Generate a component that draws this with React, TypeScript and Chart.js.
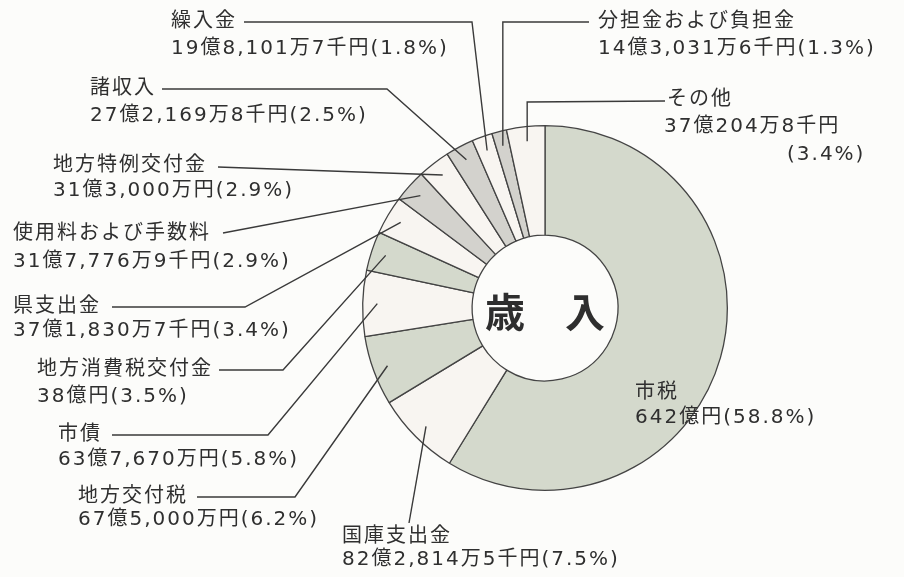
import React, { useEffect, useRef } from "react";
import { Chart, registerables } from "chart.js";

Chart.register(...registerables);

// ---- data ----
const categories = [
  "市税",
  "国庫支出金",
  "地方交付税",
  "市債",
  "地方消費税交付金",
  "県支出金",
  "使用料および手数料",
  "地方特例交付金",
  "諸収入",
  "繰入金",
  "分担金および負担金",
  "その他",
];
// amounts in 万円
const amounts = [
  6420000, 822814.5, 675000, 637670, 380000, 371830.7, 317776.9, 313000,
  272169.8, 198101.7, 143031.6, 370204.8,
];
const amountTexts = [
  "642億円",
  "82億2,814万5千円",
  "67億5,000万円",
  "63億7,670万円",
  "38億円",
  "37億1,830万7千円",
  "31億7,776万9千円",
  "31億3,000万円",
  "27億2,169万8千円",
  "19億8,101万7千円",
  "14億3,031万6千円",
  "37億204万8千円",
];
const percents = [58.8, 7.5, 6.2, 5.8, 3.5, 3.4, 2.9, 2.9, 2.5, 1.8, 1.3, 3.4];
const centerTitle = "歳　入";

// ---- styles ----
const GREEN = "#d4d9cc";
const WHITE = "#f8f5f1";
const GRAY = "#d3d2cd";
const sliceColors = [
  GREEN, WHITE, GREEN, WHITE, GREEN, WHITE, GRAY, WHITE, GRAY, WHITE, GRAY, WHITE,
];

// label layout: name position (left x, center y), value line y, leader line elbow & end
type Lay = {
  x: number;
  y: number;
  vx?: number;
  vy: number;
  split?: { x: number; y: number };
  elbow?: [number | null, number] | null;
  end?: [number, number] | null;
};
const labelLayout: Lay[] = [
  { x: 635, y: 393, vy: 418, end: null },
  { x: 342, y: 537, vy: 560, elbow: null, end: [409, 523] },
  { x: 78, y: 497, vy: 520, elbow: [295, 497], end: [197, 497] },
  { x: 58, y: 435, vy: 460, elbow: [268, 435], end: [112, 435] },
  { x: 37, y: 370, vy: 397, elbow: [283, 370], end: [219, 370] },
  { x: 13, y: 307, vy: 331, elbow: [245, 307], end: [112, 307] },
  { x: 13, y: 234, vy: 262, elbow: null, end: [223, 233] },
  { x: 53, y: 166, vy: 191, elbow: null, end: [218, 167] },
  { x: 90, y: 89, vy: 116, elbow: [387, 89], end: [162, 89] },
  { x: 171, y: 22, vy: 49, elbow: [472, 22], end: [244, 22] },
  { x: 598, y: 22, vy: 49, elbow: [null, 22], end: [589, 22] },
  { x: 667, y: 100, vx: 664, vy: 127, split: { x: 787, y: 155 }, elbow: [null, 102], end: [665, 101] },
];

const TEXT_COLOR = "#2f2f2f";
const LINE_COLOR = "#3a3a3a";
const FONT = '20px "DejaVu Sans", "Noto Sans CJK JP", sans-serif';

const decorPlugin = {
  id: "decor",
  beforeDraw(chart: any) {
    const ctx = chart.ctx;
    ctx.save();
    ctx.fillStyle = "#fcfcfa";
    ctx.fillRect(0, 0, chart.width, chart.height);
    ctx.restore();
  },
  afterDatasetsDraw(chart: any) {
    const ctx: CanvasRenderingContext2D = chart.ctx;
    const meta = chart.getDatasetMeta(0);
    ctx.save();
    // leader lines
    ctx.strokeStyle = LINE_COLOR;
    ctx.lineWidth = 1.4;
    meta.data.forEach((el: any, i: number) => {
      const lay = labelLayout[i];
      if (!lay.end) return;
      const p = el.getProps(["x", "y", "startAngle", "endAngle", "outerRadius"], true);
      const mid = (p.startAngle + p.endAngle) / 2;
      const r = p.outerRadius * 0.92;
      const ax = p.x + Math.cos(mid) * r;
      const ay = p.y + Math.sin(mid) * r;
      ctx.beginPath();
      ctx.moveTo(ax, ay);
      if (lay.elbow) {
        const ex = lay.elbow[0] === null ? ax : lay.elbow[0];
        ctx.lineTo(ex, lay.elbow[1]);
      }
      ctx.lineTo(lay.end[0], lay.end[1]);
      ctx.stroke();
    });
    // labels
    ctx.fillStyle = TEXT_COLOR;
    ctx.font = FONT;
    (ctx as any).letterSpacing = "2px";
    ctx.textBaseline = "middle";
    ctx.textAlign = "left";
    categories.forEach((name, i) => {
      const lay = labelLayout[i];
      ctx.fillText(name, lay.x, lay.y);
      const vx = lay.vx ?? lay.x;
      if (lay.split) {
        ctx.fillText(amountTexts[i], vx, lay.vy);
        ctx.fillText(`(${percents[i].toFixed(1)}%)`, lay.split.x, lay.split.y);
      } else {
        ctx.fillText(`${amountTexts[i]}(${percents[i].toFixed(1)}%)`, vx, lay.vy);
      }
    });
    // center title
    const c = meta.data[0].getProps(["x", "y"], true);
    (ctx as any).letterSpacing = "0px";
    ctx.font = 'bold 40px "Noto Sans CJK JP", sans-serif';
    ctx.textAlign = "center";
    ctx.fillStyle = "#2e2e2e";
    ctx.fillText(centerTitle, c.x, c.y + 4);
    ctx.restore();
  },
};

export default function App() {
  const ref = useRef<HTMLCanvasElement | null>(null);
  useEffect(() => {
    if (!ref.current) return;
    const chart = new Chart(ref.current, {
      type: "doughnut",
      data: {
        labels: categories,
        datasets: [
          {
            data: amounts,
            backgroundColor: sliceColors,
            borderColor: "#444444",
            borderWidth: 1.3,
          },
        ],
      },
      options: {
        animation: false,
        responsive: true,
        maintainAspectRatio: false,
        cutout: "40%",
        events: [],
        layout: { padding: { left: 362, right: 176, top: 125, bottom: 86 } },
        plugins: {
          legend: { display: false },
          tooltip: { enabled: false },
          title: { display: false },
        },
      },
      plugins: [decorPlugin],
    });
    return () => chart.destroy();
  }, []);
  return (
    <div style={{ position: "fixed", left: 0, top: 0, width: 904, height: 577, background: "#fcfcfa" }}>
      <canvas ref={ref} />
    </div>
  );
}
